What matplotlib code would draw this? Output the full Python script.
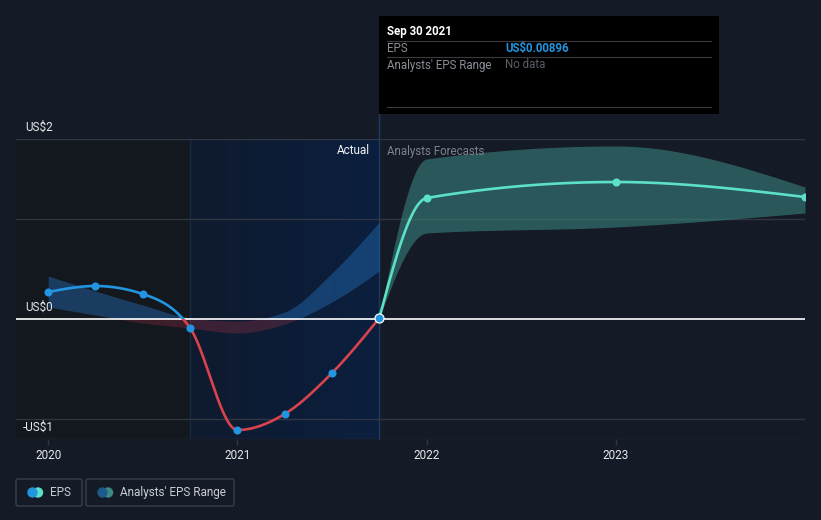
import numpy as np
import matplotlib.pyplot as plt
from matplotlib.patches import Rectangle, FancyBboxPatch, Circle
from matplotlib.colors import LinearSegmentedColormap

plt.rcParams['font.family'] = ['Roboto', 'DejaVu Sans']

# *** DATA
eps_dates = [2020.0, 2020.25, 2020.5, 2020.75, 2021.0, 2021.25, 2021.5, 2021.75]
eps_values = [0.27, 0.33, 0.25, -0.09, -1.11, -0.95, -0.54, 0.00896]
range_high = [0.43, 0.28, 0.14, 0.01, -0.02, 0.07, 0.46, 0.97]
range_low = [0.12, 0.04, -0.04, -0.09, -0.14, -0.05, 0.17, 0.48]

fc_dates = [2021.75, 2022.0, 2023.0, 2024.0]
fc_values = [0.00896, 1.21, 1.37, 1.22]
fc_high = [0.00896, 1.60, 1.73, 1.32]
fc_low = [0.00896, 0.86, 0.92, 1.06]

year_ticks = [2020, 2021, 2022, 2023]
year_labels = ['2020', '2021', '2022', '2023']

# *** STYLE
BG = '#151b26'
BLUE = '#2394df'
RED = '#d9434e'
TEAL = '#5ce1c6'
GRID = '#2f3541'
XMIN, XMAX = 2019.83, 2024.0
YMIN, YMAX = -1.2, 1.8


def monotone(x, y, n=300):
  # monotone cubic (d3 curveMonotoneX style) for drawing the smooth lines
  x = np.asarray(x, float)
  y = np.asarray(y, float)
  h = np.diff(x)
  d = np.diff(y) / h
  m = np.zeros_like(y)
  for i in range(1, len(y) - 1):
    if d[i - 1] * d[i] <= 0:
      m[i] = 0.0
    else:
      p = (d[i - 1] * h[i] + d[i] * h[i - 1]) / (h[i - 1] + h[i])
      m[i] = (np.sign(d[i - 1]) + np.sign(d[i])) * min(abs(d[i - 1]), abs(d[i]), 0.5 * abs(p))
  m[0] = (3 * d[0] - m[1]) / 2 if len(y) > 2 else d[0]
  m[-1] = (3 * d[-1] - m[-2]) / 2 if len(y) > 2 else d[-1]
  xs, ys = [], []
  for i in range(len(h)):
    t = np.linspace(0, 1, n)
    h00 = 2 * t**3 - 3 * t**2 + 1
    h10 = t**3 - 2 * t**2 + t
    h01 = -2 * t**3 + 3 * t**2
    h11 = t**3 - t**2
    xs.append(x[i] + t * h[i])
    ys.append(h00 * y[i] + h10 * h[i] * m[i] + h01 * y[i + 1] + h11 * h[i] * m[i + 1])
  return np.concatenate(xs), np.concatenate(ys)


fig = plt.figure(figsize=(8.21, 5.2), dpi=100, facecolor=BG)
ax = fig.add_axes([16 / 821, 81 / 520, 789 / 821, 300 / 520])
ax.set_facecolor(BG)
ax.set_xlim(XMIN, XMAX)
ax.set_ylim(YMIN, YMAX)
for s in ax.spines.values():
  s.set_visible(False)

# background regions
ax.axvspan(XMIN, 2020.75, color='#13171e', zorder=0, lw=0)
grad = np.linspace(0, 1, 256).reshape(1, -1)
cmap = LinearSegmentedColormap.from_list('act', ['#0f1a2e', '#0b1f3e'])
ax.imshow(grad, extent=[2020.75, 2021.75, YMIN, YMAX], aspect='auto', cmap=cmap, zorder=0)
ax.axvline(2020.75, color='#18283f', lw=1, zorder=1)
ax.plot([2021.75, 2021.75], [YMIN, 2.05], color='#1d3a63', lw=1, zorder=1, clip_on=False)

# gridlines
for yv in [YMAX, 1.0, -1.0, YMIN]:
  ax.axhline(yv, color=GRID, lw=1, zorder=2)

above = Rectangle((XMIN, 0), XMAX - XMIN, 10, transform=ax.transData)
below = Rectangle((XMIN, -10), XMAX - XMIN, 10, transform=ax.transData)

# past analyst range band
bx, bh = monotone(eps_dates, range_high)
_, bl = monotone(eps_dates, range_low)
f1 = ax.fill_between(bx, bl, bh, color='#2476c4', alpha=0.4, lw=0, zorder=3)
f1.set_clip_path(above)
f2 = ax.fill_between(bx, bl, bh, color='#c0394a', alpha=0.25, lw=0, zorder=3)
f2.set_clip_path(below)

# forecast range band
fx, fh = monotone(fc_dates, fc_high)
_, fl = monotone(fc_dates, fc_low)
ax.fill_between(fx, fl, fh, color='#3d8c86', alpha=0.55, lw=0, zorder=3)

# zero line
ax.axhline(0, color='white', lw=1.2, zorder=4)

# actual eps line
ex, ey = monotone(eps_dates, eps_values)
l1, = ax.plot(ex, ey, color=BLUE, lw=1.9, zorder=5, solid_capstyle='round')
l1.set_clip_path(above)
l2, = ax.plot(ex, ey, color=RED, lw=1.9, zorder=5, solid_capstyle='round')
l2.set_clip_path(below)

# forecast line
px, py = monotone(fc_dates, fc_values)
ax.plot(px, py, color=TEAL, lw=1.9, zorder=5)

ax.plot(eps_dates[:-1], eps_values[:-1], 'o', color=BLUE, ms=5.8, mew=0, zorder=6)
ax.plot(eps_dates[-1:], eps_values[-1:], 'o', color=BLUE, ms=6.5, mec='white', mew=0.9, zorder=7)
ax.plot(fc_dates[1:], fc_values[1:], 'o', color=TEAL, ms=5.8, mew=0, zorder=6)

ax.set_yticks([])
ax.set_xticks(year_ticks)
ax.set_xticklabels(year_labels)
ax.tick_params(axis='x', colors=GRID, labelcolor='#e6e8eb', length=4, width=1, pad=3, labelsize=8.5)

# overlay in pixel units for texts, tooltip, legend
ov = fig.add_axes([0, 0, 1, 1], zorder=10)
ov.set_xlim(0, 821)
ov.set_ylim(520, 0)
ov.axis('off')
ov.patch.set_alpha(0)

ov.text(25, 127, 'US$2', color='#e6e8eb', fontsize=8.5, va='center')
ov.text(25, 307, 'US$0', color='#e6e8eb', fontsize=8.5, va='center')
ov.text(23, 427, '-US$1', color='#e6e8eb', fontsize=8.5, va='center')
ov.text(370, 151, 'Actual', color='#f0f2f4', fontsize=8.5, va='center', ha='right')
ov.text(387, 151, 'Analysts Forecasts', color='#7d828b', fontsize=8.3, va='center')

# tooltip
ov.add_patch(Rectangle((379, 16), 340, 98, color='black', lw=0))
for yy in [40.7, 57.3, 106.7]:
  ov.plot([387, 711], [yy, yy], color='#3b3b3b', lw=0.8)
ov.text(387, 31, 'Sep 30 2021', color='white', fontsize=8.3, fontweight='bold', va='center')
ov.text(387, 48.5, 'EPS', color='#8a8f98', fontsize=8.3, va='center')
ov.text(505, 48.5, 'US$0.00896', color=BLUE, fontsize=8.3, fontweight='bold', va='center')
ov.text(387, 65, "Analysts' EPS Range", color='#8a8f98', fontsize=8.3, va='center')
ov.text(505, 65, 'No data', color='#5b6068', fontsize=8.3, va='center')

# legend
for x0, w in [(16, 66), (86, 148)]:
  ov.add_patch(FancyBboxPatch((x0, 479), w, 27, boxstyle='round,pad=0,rounding_size=2',
                              fc='none', ec='#3a404b', lw=1))
ov.add_patch(Circle((38, 492.5), 4.5, color=TEAL))
ov.add_patch(Circle((32.5, 492.5), 4.5, color=BLUE))
ov.text(50, 492.5, 'EPS', color='#c9cdd3', fontsize=8.5, va='center')
ov.add_patch(Circle((108, 492.5), 4.5, color='#3f8a84'))
ov.add_patch(Circle((102.5, 492.5), 4.5, color='#1f5a8c'))
ov.text(120, 492.5, "Analysts' EPS Range", color='#c9cdd3', fontsize=8.5, va='center')

fig.savefig('out.png', dpi=100, facecolor=BG)
